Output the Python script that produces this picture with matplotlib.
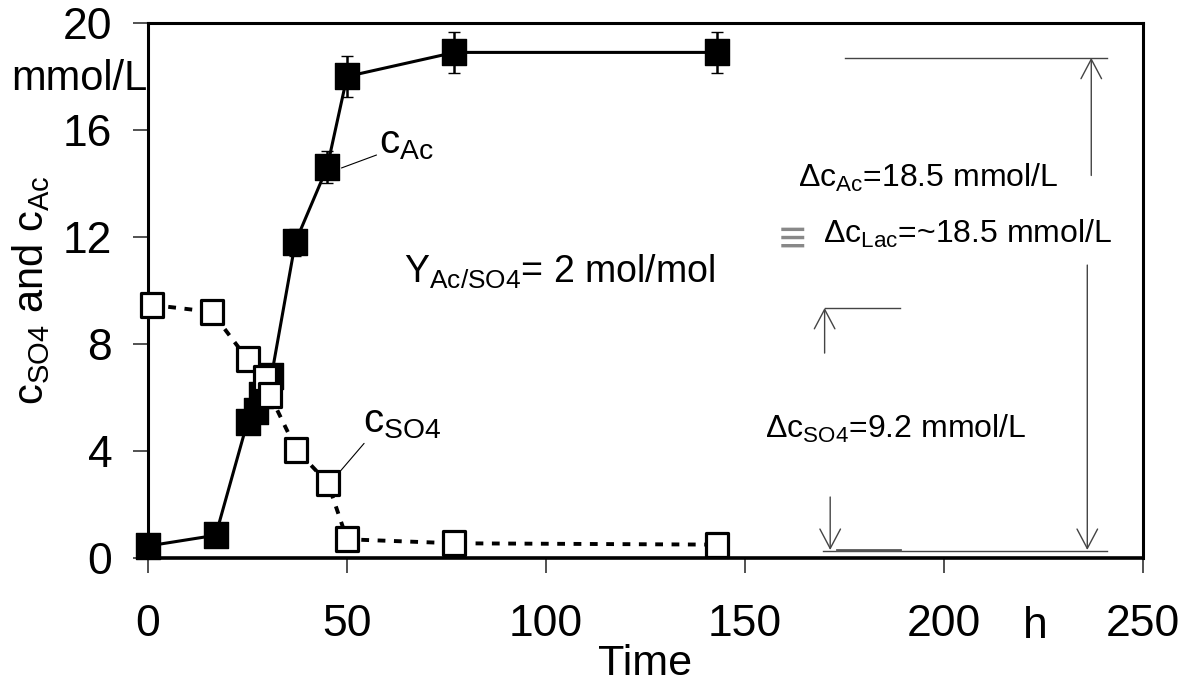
import matplotlib
matplotlib.use('Agg')
import matplotlib.pyplot as plt
from matplotlib.path import Path

plt.rcParams['font.family'] = ['Liberation Sans', 'DejaVu Sans']
plt.rcParams['mathtext.fontset'] = 'custom'
plt.rcParams['mathtext.rm'] = 'Liberation Sans'
plt.rcParams['mathtext.it'] = 'Liberation Sans:italic'

# acetate, filled squares (mmol/L)
t_ac = [0, 17, 25, 27, 28.5, 31, 37, 45, 50, 77, 143]
c_ac = [0.45, 0.85, 5.1, 5.5, 6.1, 6.8, 11.8, 14.6, 18.0, 18.9, 18.9]
err_ac = [0, 0, 0, 0, 0, 0, 0.5, 0.6, 0.75, 0.77, 0.78]

# sulfate, open squares (mmol/L)
t_so4 = [1, 16, 25, 29.3, 30.6, 37.3, 45.2, 50, 77, 143]
c_so4 = [9.46, 9.2, 7.43, 6.73, 6.1, 4.04, 2.8, 0.7, 0.55, 0.5]

xticks = [0, 50, 100, 150, 200, 250]
yticks = [0, 4, 8, 12, 16, 20]

# levels marked by the delta brackets on the right
ac_start, ac_end = 0.3, 18.7
so4_start, so4_end = 9.35, 0.3

# slightly tall square marker, like the original
rect = Path([(-0.45, -0.5), (0.45, -0.5), (0.45, 0.5), (-0.45, 0.5), (-0.45, -0.5)], closed=True)

fig = plt.figure(figsize=(11.92, 6.9), dpi=100)
ax = fig.add_axes([0.1242, 0.1913, 0.8347, 0.7754])

ax.errorbar(t_ac, c_ac, yerr=err_ac, color='black', lw=2.2, marker=rect, ms=19,
            mfc='black', mec='black', mew=1.0, capsize=4.5, capthick=2.2,
            elinewidth=1.8, clip_on=False, zorder=3)
ax.plot(t_so4, c_so4, color='black', lw=2.8, linestyle=(0, (2, 2.2)), marker=rect, ms=17,
        mfc='white', mec='black', mew=2.3, clip_on=False, zorder=4)

ax.set_xlim(0, 250)
ax.set_ylim(0, 20)
ax.set_xticks(xticks)
ax.set_yticks(yticks)
ax.tick_params(direction='out', length=10.8, width=1.2, color='#333', labelsize=32)
ax.tick_params(axis='x', pad=22)
ax.tick_params(axis='y', pad=15)
for s in ax.spines.values():
    s.set_linewidth(2.2)
ax.spines['bottom'].set_linewidth(2.6)

ax.set_xlabel('Time', fontsize=31)
ax.xaxis.set_label_coords(0.5, -0.16)
ax.set_ylabel(r'$\mathregular{c_{SO4}}$ and $\mathregular{c_{Ac}}$', fontsize=30)
ax.yaxis.set_label_coords(-0.0965, 0.5)

ax.text(222.8, -0.1495, 'h', fontsize=32, ha='center', va='baseline',
        transform=ax.get_xaxis_transform())
ax.text(-0.001, 17.5, 'mmol/L', fontsize=30, ha='right', va='baseline',
        transform=ax.get_yaxis_transform())

# series labels with leader lines
ax.annotate(r'$\mathregular{c_{Ac}}$', xy=(48.6, 14.58), xytext=(58.1, 15.14), fontsize=29,
            va='baseline', arrowprops=dict(arrowstyle='-', lw=0.8, shrinkA=0, shrinkB=0,
                                           relpos=(0, 0.2)))
ax.annotate(r'$\mathregular{c_{SO4}}$', xy=(48.1, 3.21), xytext=(53.9, 4.71), fontsize=29,
            va='baseline', arrowprops=dict(arrowstyle='-', lw=0.8, shrinkA=0, shrinkB=0,
                                           relpos=(0.05, 0)))

ax.text(64.4, 10.28, r'Y$\mathregular{_{Ac/SO4}}$= 2 mol/mol', fontsize=27, va='baseline')
ax.text(163.3, 13.87, r'Δc$\mathregular{_{Ac}}$=18.5 mmol/L', fontsize=23, va='baseline')
ax.text(162, 11.86, '≡', fontsize=34, color='#888', ha='center', va='center')
ax.text(169.7, 11.78, r'Δc$\mathregular{_{Lac}}$=~18.5 mmol/L', fontsize=23, va='baseline')
ax.text(155.1, 4.49, r'Δc$\mathregular{_{SO4}}$=9.2 mmol/L', fontsize=23, va='baseline')

# delta brackets
gray = '#444'
arrow = dict(arrowstyle='->,head_length=0.7,head_width=0.37', lw=1.0, color=gray,
             shrinkA=0, shrinkB=0, mutation_scale=20)
ax.plot([175, 241], [ac_end, ac_end], color=gray, lw=1.0)
ax.plot([169.7, 241], [ac_start - 0.04, ac_start - 0.04], color=gray, lw=1.0)
ax.plot([173, 189], [ac_start, ac_start], color='#555', lw=2.0)
ax.plot([170, 189], [so4_start, so4_start], color=gray, lw=1.0)
ax.annotate('', xy=(237, ac_end), xytext=(237, 14.3), arrowprops=arrow)
ax.annotate('', xy=(236, ac_start), xytext=(236, 10.95), arrowprops=arrow)
ax.annotate('', xy=(170, so4_start), xytext=(170, 7.66), arrowprops=arrow)
ax.annotate('', xy=(171.4, so4_end), xytext=(171.4, 2.28), arrowprops=arrow)

fig.savefig('out.png', dpi=100)
